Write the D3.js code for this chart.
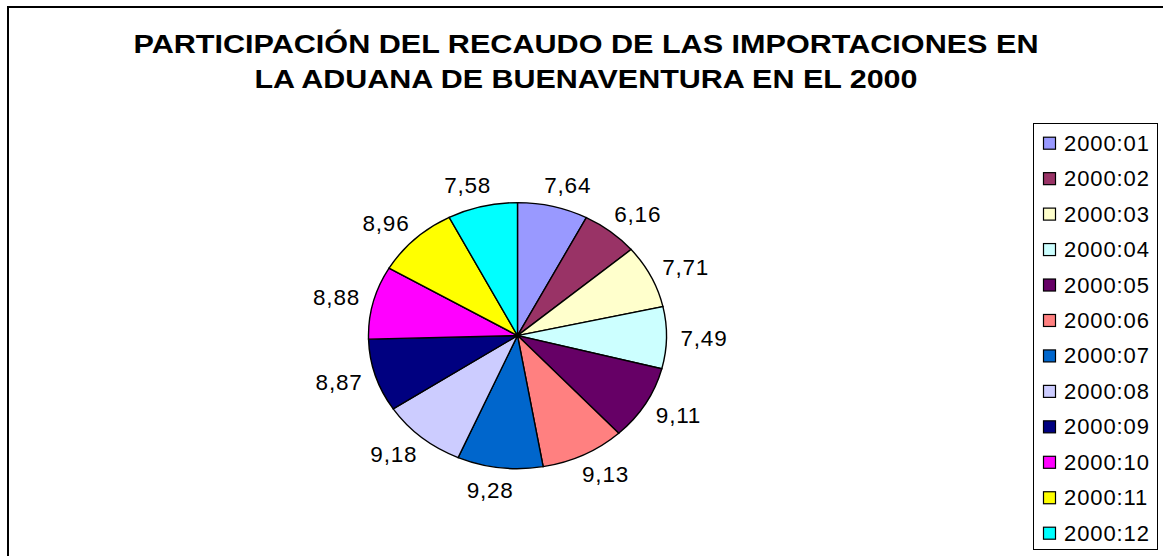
<!DOCTYPE html>
<html lang="es">
<head>
<meta charset="utf-8">
<title>Recaudo importaciones Buenaventura 2000</title>
<script src="https://cdn.jsdelivr.net/npm/d3@7"></script>
<style>
  body { margin: 0; background: #fff; }
  svg { display: block; font-family: "Liberation Sans", Arial, sans-serif; }
  .slice { stroke: #000; stroke-width: 1.4px; vector-effect: non-scaling-stroke; }
  .lbl { font-size: 22.5px; letter-spacing: 0.8px; fill: #000; }
  .leg { font-size: 22px; letter-spacing: 0.9px; fill: #000; }
</style>
</head>
<body>
<svg id="chart"></svg>
<script>
var W = 1163, H = 556;

var titleLines = ["PARTICIPACIÓN DEL RECAUDO DE LAS IMPORTACIONES EN",
                  "LA ADUANA DE BUENAVENTURA EN EL 2000"];
var months = ["2000:01","2000:02","2000:03","2000:04","2000:05","2000:06",
              "2000:07","2000:08","2000:09","2000:10","2000:11","2000:12"];
var shares = [7.64, 6.16, 7.71, 7.49, 9.11, 9.13, 9.28, 9.18, 8.87, 8.88, 8.96, 7.58];
var labels = ["7,64","6,16","7,71","7,49","9,11","9,13","9,28","9,18","8,87","8,88","8,96","7,58"];
var colors = ["#9999FF","#993366","#FFFFCC","#CCFFFF","#660066","#FF8080",
              "#0066CC","#CCCCFF","#000080","#FF00FF","#FFFF00","#00FFFF"];

var svg = d3.select("#chart").attr("width", W).attr("height", H);

// outer chart frame (only left and top edges are inside the picture)
svg.append("rect")
    .attr("x", 8).attr("y", 7)
    .attr("width", W).attr("height", H)
    .attr("fill", "none").attr("stroke", "#000").attr("stroke-width", 2);

// title
svg.selectAll(".title").data(titleLines).enter().append("text")
    .attr("class", "title")
    .attr("x", 586)
    .attr("y", function (d, i) { return 53 + i * 35; })
    .attr("text-anchor", "middle")
    .attr("font-size", "25.5px")
    .attr("font-weight", "bold")
    .attr("textLength", function (d, i) { return i === 0 ? 905 : 663; })
    .attr("lengthAdjust", "spacingAndGlyphs")
    .text(function (d) { return d; });

// pie (slightly flattened ellipse)
var cx = 517.5, cy = 335.6, rx = 149, ry = 133;
var pie = d3.pie().sort(null).value(function (d) { return d; });
var arcs = pie(shares);
var arc = d3.arc().innerRadius(0).outerRadius(rx);

var g = svg.append("g")
    .attr("transform", "translate(" + cx + "," + cy + ") scale(1," + (ry / rx) + ")");
g.selectAll("path").data(arcs).enter().append("path")
    .attr("class", "slice")
    .attr("d", arc)
    .attr("fill", function (d, i) { return colors[i]; });

// data labels outside the slices
var dOff = 14;
svg.selectAll(".lbl").data(arcs).enter().append("text")
    .attr("class", "lbl")
    .text(function (d, i) { return labels[i]; })
    .each(function (d) {
        var t = d3.select(this);
        var w = this.getComputedTextLength(), h = 16;
        var a = (d.startAngle + d.endAngle) / 2;
        var s = Math.sin(a), c = Math.cos(a);
        var ax = cx + (rx + dOff) * s, ay = cy - (ry + dOff) * c;
        var px = ax + (w / 2) * Math.sign(s) * Math.sqrt(Math.abs(s));
        var py = ay - (h / 2) * c;
        t.attr("x", px).attr("y", py + 8).attr("text-anchor", "middle");
    });

// legend
var lx = 1033, ly = 123, lw = 124, lh = 426;
svg.append("rect")
    .attr("x", lx + 0.5).attr("y", ly + 0.5)
    .attr("width", lw).attr("height", lh)
    .attr("fill", "#fff").attr("stroke", "#000").attr("stroke-width", 1);

var rowY = d3.scaleLinear().domain([0, 11]).range([142.7, 532.7]);
var leg = svg.selectAll(".legrow").data(months).enter().append("g")
    .attr("class", "legrow")
    .attr("transform", function (d, i) { return "translate(0," + rowY(i) + ")"; });
leg.append("rect")
    .attr("x", 1043.5).attr("y", -5.5)
    .attr("width", 12).attr("height", 12)
    .attr("fill", function (d, i) { return colors[i]; })
    .attr("stroke", "#000").attr("stroke-width", 1.2);
leg.append("text")
    .attr("class", "leg")
    .attr("x", 1064).attr("y", 8)
    .text(function (d) { return d; });
</script>
</body>
</html>
